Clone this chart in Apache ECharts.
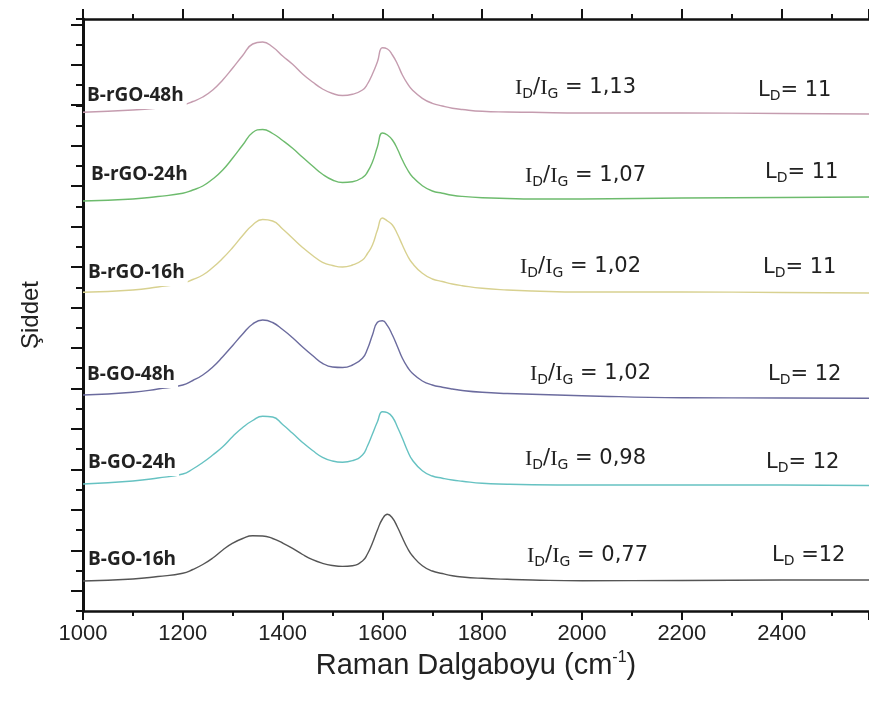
<!DOCTYPE html>
<html>
<head>
<meta charset="utf-8">
<script src="https://cdn.jsdelivr.net/npm/echarts@6/dist/echarts.min.js"></script>
<style>
  html, body { margin: 0; padding: 0; background: #fff; }
  #chart { width: 869px; height: 707px; }
</style>
</head>
<body>
<div id="chart"></div>
<script>
// Raman shift (cm-1), shared by all spectra
var wavenumber = [1000, 1100, 1150, 1200, 1220, 1240, 1260, 1280, 1300, 1320, 1340, 1360, 1380, 1400, 1420,
  1440, 1460, 1480, 1500, 1520, 1540, 1560, 1570, 1580, 1590, 1600, 1610, 1620, 1630, 1640, 1650, 1660,
  1680, 1700, 1720, 1740, 1760, 1800, 1850, 1900, 2000, 2200, 2400, 2575];

// stacked intensities (a.u., already offset)
var rGO48 = [498.7, 501, 503, 506, 509.5, 514, 521, 531, 543, 555.5, 567, 569, 564, 555, 546.7,
  537, 529, 522, 517.5, 515.5, 516.7, 521, 527, 537, 549.3, 563.3, 562, 556, 547, 536, 527.5, 521,
  512.7, 507.7, 505, 502.8, 501.5, 499.7, 499, 498.7, 498, 498, 497.5, 497];
var rGO24 = [410, 412, 414.5, 417.7, 421, 425, 432, 441, 453, 466, 478.5, 481.5, 477.5, 470.5, 462.7,
  453.8, 445, 436.7, 431, 428.5, 429.3, 433.3, 439, 449, 464.3, 478, 476, 471, 462, 451, 441.5, 434.3,
  425.3, 420, 417.8, 415.8, 414.6, 413.3, 412.5, 412, 412, 413, 413.5, 414];
var rGO16 = [318.7, 321, 324, 327.7, 331.5, 336, 343.5, 352.7, 363.5, 375.5, 386, 391.5, 390, 382, 372.7,
  363.5, 355.5, 348.7, 345.5, 344, 346, 351, 357.5, 366, 381, 393, 390, 386, 377, 366, 355.5, 347.7,
  337.7, 332, 329.5, 327, 325.3, 322.7, 321, 320, 319, 319, 318.5, 318];
var GO48 = [216, 218.7, 222, 226, 230.5, 236, 244, 254.3, 265.5, 277, 287, 291, 288.5, 281.5, 273.3,
  264, 255.5, 247.7, 244, 243.5, 246, 252.7, 262, 276, 288.7, 290.3, 285.3, 276, 264.5, 252.7, 244, 237.7,
  230, 226, 223.8, 222, 220.5, 218.7, 217.5, 216.7, 215.3, 213.3, 213, 212.7];
var GO24 = [127, 130, 133, 137, 142, 148.5, 156, 164.3, 174.5, 183.5, 190.5, 194.8, 194, 186.5, 177.7,
  168.5, 160.5, 153.7, 150, 148.8, 150.3, 156, 165, 177, 189.3, 199.3, 198.3, 194, 184, 172.7, 160.5, 151,
  140.3, 135, 132.8, 131, 129.8, 127.7, 126.8, 126.3, 126, 126, 126, 125.5];
var GO16 = [30, 32, 34.5, 37.7, 41.5, 46.5, 53, 61, 67.8, 72.5, 75.2, 75, 72.5, 68, 62.7,
  56.5, 51.3, 47.7, 45.5, 44.6, 45.3, 50, 57, 68, 81, 92, 96.7, 93, 84, 73.3, 63, 55.3,
  45.3, 40, 37.5, 35.3, 34, 32.7, 31.7, 31, 30.3, 30.5, 31, 31];

var sampleNames = ['B-rGO-48h', 'B-rGO-24h', 'B-rGO-16h', 'B-GO-48h', 'B-GO-24h', 'B-GO-16h'];
var ratioIDIG = ['1,13', '1,07', '1,02', '1,02', '0,98', '0,77'];
var valueLD = ['= 11', '= 11', '= 11', '= 12', '= 12', ' =12'];

var spectra = [rGO48, rGO24, rGO16, GO48, GO24, GO16];
var lineColors = ['#c59caf', '#6dbb6d', '#d8d190', '#6b6b9e', '#66c2c2', '#555555'];

// where the text annotations sit (px)
var namePos = [[85, 85], [89, 164], [86, 262], [85, 364], [86, 452], [86, 549]];
var ratioPos = [[515, 77], [525, 165], [520, 256], [530, 363], [525, 448], [527, 545]];
var ldPos = [[758, 80], [765, 162], [763, 257], [768, 364], [766, 452], [772, 545]];

var chart = echarts.init(document.getElementById('chart'));

var annoRich = {
  i: { fontFamily: 'Liberation Serif', fontSize: 22, lineHeight: 26, fill: '#222' },
  n: { fontFamily: 'DejaVu Sans', fontSize: 21, lineHeight: 26, fill: '#222' },
  s: { fontFamily: 'DejaVu Sans', fontSize: 14, lineHeight: 14, verticalAlign: 'bottom', fill: '#222' }
};

var graphics = [];
for (var k = 0; k < sampleNames.length; k++) {
  graphics.push({
    type: 'text', left: namePos[k][0], top: namePos[k][1], z: 100,
    style: {
      text: sampleNames[k], fontFamily: 'Open Sans', fontWeight: 'bold', fontSize: 19,
      fill: '#222', backgroundColor: '#fff', padding: [1, 3, 4, 2]
    }
  });
  graphics.push({
    type: 'text', left: ratioPos[k][0], top: ratioPos[k][1], z: 100,
    style: { text: '{i|I}{s|D}{n|/}{i|I}{s|G}{n| = ' + ratioIDIG[k] + '}', rich: annoRich }
  });
  graphics.push({
    type: 'text', left: ldPos[k][0], top: ldPos[k][1], z: 100,
    style: { text: '{n|L}{s|D}{n|' + valueLD[k] + '}', rich: annoRich }
  });
}

var seriesList = spectra.map(function (arr, k) {
  return {
    name: sampleNames[k],
    type: 'line',
    xAxisIndex: 0,
    yAxisIndex: 0,
    data: wavenumber.map(function (w, i) { return [w, arr[i]]; }),
    symbol: 'none',
    smooth: 0.5,
    lineStyle: { color: lineColors[k], width: 1.4 },
    z: 3
  };
});

var axisDark = '#111';
var plainLabel = function (v) { return String(v); };

var option = {
  animation: false,
  backgroundColor: '#fff',
  grid: [
    { left: 83, right: 0, top: 19, bottom: 96 },
    { left: 83, right: 0, top: 24.3, bottom: 116.2 }
  ],
  xAxis: [
    {
      gridIndex: 0, type: 'value', position: 'bottom', min: 1000, max: 2575, interval: 200,
      axisLine: { onZero: false, lineStyle: { color: axisDark, width: 2.5 } },
      axisTick: { length: 9, lineStyle: { color: axisDark, width: 2 } },
      minorTick: { show: true, splitNumber: 2, length: 5, lineStyle: { color: axisDark, width: 2 } },
      axisLabel: {
        fontFamily: 'Liberation Sans', fontSize: 22, color: '#222', margin: 12,
        formatter: plainLabel, showMaxLabel: false
      },
      splitLine: { show: false },
      name: '{a|Raman Dalgaboyu (cm}{s|-1}{a|)}',
      nameLocation: 'middle',
      nameGap: 35,
      nameTextStyle: {
        rich: {
          a: { fontFamily: 'Liberation Sans', fontSize: 29, lineHeight: 33, color: '#222' },
          s: { fontFamily: 'Liberation Sans', fontSize: 16, lineHeight: 16, verticalAlign: 'top', color: '#222' }
        }
      }
    },
    {
      gridIndex: 0, type: 'value', position: 'top', min: 1000, max: 2575, interval: 200,
      axisLine: { onZero: false, lineStyle: { color: axisDark, width: 2.5 } },
      axisTick: { length: 10, lineStyle: { color: axisDark, width: 2 } },
      minorTick: { show: true, splitNumber: 2, length: 5, lineStyle: { color: axisDark, width: 2 } },
      axisLabel: { show: false },
      splitLine: { show: false }
    },
    { gridIndex: 1, type: 'value', min: 1000, max: 2575, show: false }
  ],
  yAxis: [
    {
      gridIndex: 0, type: 'value', min: 0, max: 592, interval: 20.23,
      axisLine: { show: true, onZero: false, lineStyle: { color: axisDark, width: 3 } },
      axisTick: { show: true, length: 7, lineStyle: { color: axisDark, width: 2 } },
      axisLabel: { show: false },
      splitLine: { show: false },
      name: 'Şiddet',
      nameLocation: 'middle',
      nameGap: 40,
      nameTextStyle: { fontFamily: 'Liberation Sans', fontSize: 24, color: '#222' }
    },
    {
      gridIndex: 1, type: 'value', min: 0, max: 14, interval: 1,
      axisLine: { show: false, onZero: false },
      axisTick: { show: true, length: 12, lineStyle: { color: axisDark, width: 2 } },
      axisLabel: { show: false },
      splitLine: { show: false }
    }
  ],
  series: seriesList,
  graphic: graphics
};

chart.setOption(option);
</script>
</body>
</html>
